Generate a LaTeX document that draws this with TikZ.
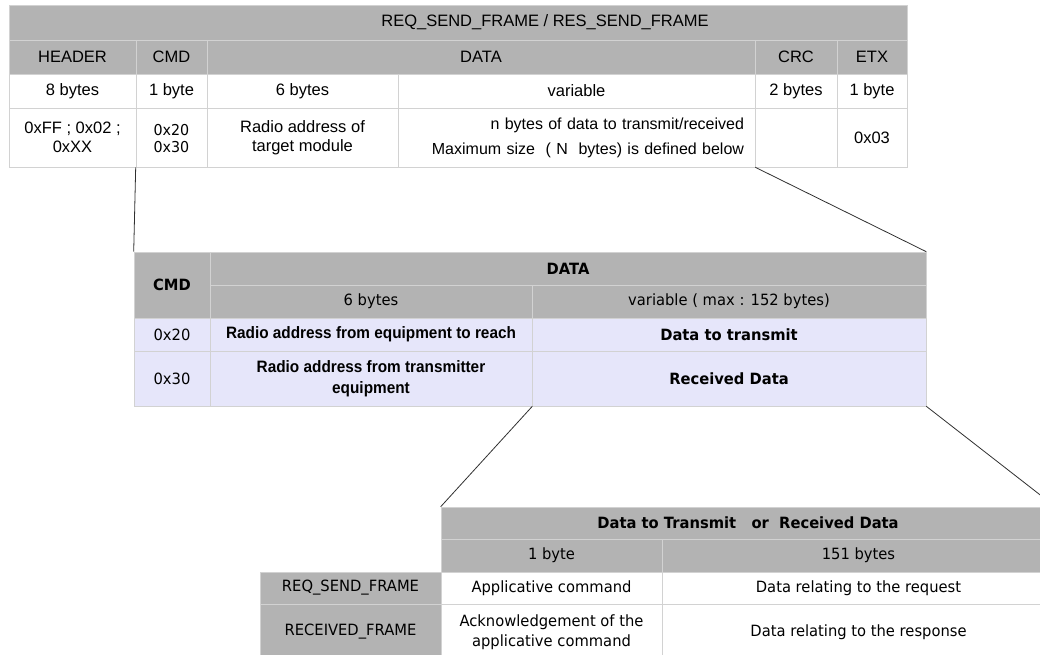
\documentclass[tikz,border=0pt]{standalone}
\usepackage{fontspec}
\setmainfont{Liberation Sans}
\newfontfamily\tahoma[FakeStretch=0.95]{DejaVu Sans}
\newfontfamily\narrowsans[FakeStretch=0.93]{Liberation Sans}
\definecolor{headgray}{HTML}{B3B3B3}
\definecolor{rulegray}{HTML}{D2D2D2}
\definecolor{rowlav}{HTML}{E6E6FA}
\definecolor{linkgray}{HTML}{303030}
% one table cell: [style] name, x1, y1, x2, y2, text
\newcommand\tcell[7][]{%
\node[cell,minimum width={(#5-#3)*1pt},minimum height={(#6-#4)*1pt},#1]
  (#2) at ({(#3+#5)/2},{(#4+#6)/2}) {#7};}

\begin{document}
\begin{tikzpicture}[x=1pt,y=-1pt]
\tikzset{cell/.style={draw=rulegray,line width=0.6pt,inner sep=0pt,align=center,
  font=\fontsize{16.5}{19}\selectfont},
  head/.style={fill=headgray},
  lav/.style={fill=rowlav},
  tah/.style={font=\tahoma\fontsize{15.5}{20}\selectfont},
  tahbold/.style={font=\tahoma\bfseries\fontsize{15.5}{20}\selectfont},
  narrowbold/.style={font=\narrowsans\bfseries\fontsize{16.5}{21}\selectfont},
  link/.style={draw=linkgray,line width=0.8pt}}
\useasboundingbox (0,0) rectangle (1040,654);
\clip (0,0) rectangle (1040,654);

% frame table
\tcell[head]{t1title}{9}{5}{907}{40}{}
\node[font=\fontsize{16.5}{19}\selectfont] (t1name) at (545,22.5) {REQ\_SEND\_FRAME / RES\_SEND\_FRAME};
\tcell[head]{t1header}{9}{40}{136}{74}{HEADER}
\tcell[head]{t1cmd}{136}{40}{207}{74}{CMD}
\tcell[head]{t1data}{207}{40}{755}{74}{DATA}
\tcell[head]{t1crc}{755}{40}{837}{74}{CRC}
\tcell[head]{t1etx}{837}{40}{907}{74}{ETX}
\tcell{t1headersize}{9}{74}{136}{108}{8 bytes}
\tcell{t1cmdsize}{136}{74}{207}{108}{1 byte}
\tcell{t1addrsize}{207}{74}{398}{108}{6 bytes}
\tcell{t1varsize}{398}{74}{755}{108}{variable}
\tcell{t1crcsize}{755}{74}{837}{108}{2 bytes}
\tcell{t1etxsize}{837}{74}{907}{108}{1 byte}
\tcell{t1headerval}{9}{108}{136}{167}{0xFF ; 0x02 ;\\0xXX}
\tcell[font=\tahoma\fontsize{15}{17}\selectfont]{t1cmdval}{136}{108}{207}{167}{\\[-4pt]0x20\\0x30}
\tcell{t1addrval}{207}{108}{398}{167}{Radio address of\\target module}
\tcell[text width=335pt,align=right,font=\fontsize{16}{19}\selectfont]{t1varval}{398}{108}{755}{167}{n bytes of data to transmit/received\\[6pt]Maximum size~ ( N~ bytes) is defined below}
\tcell{t1crcval}{755}{108}{837}{167}{}
\tcell{t1etxval}{837}{108}{907}{167}{0x03}

% DATA field table
\tcell[head,tahbold]{t2cmd}{134}{252}{210}{318}{CMD}
\tcell[head,tahbold]{t2data}{210}{252}{926}{285}{DATA}
\tcell[head,tah]{t2addrsize}{210}{285}{532}{318}{6 bytes}
\tcell[head,tah]{t2varsize}{532}{285}{926}{318}{variable ( max : 152 bytes)}
\tcell[lav,tah]{t2txcmd}{134}{318}{210}{351}{0x20}
\tcell[lav,narrowbold]{t2txaddr}{210}{318}{532}{351}{Radio address from equipment to reach}
\tcell[lav,tahbold]{t2txdata}{532}{318}{926}{351}{Data to transmit}
\tcell[lav,tah]{t2rxcmd}{134}{351}{210}{406}{0x30}
\tcell[lav,narrowbold]{t2rxaddr}{210}{351}{532}{406}{Radio address from transmitter\\equipment}
\tcell[lav,tahbold]{t2rxdata}{532}{351}{926}{406}{Received Data}

% payload table
\tcell[head,tahbold]{t3title}{441}{507}{1055}{539}{Data to Transmit~~ or~ Received Data}
\tcell[head,tah]{t3cmdsize}{441}{539}{662}{572}{1 byte}
\tcell[head,tah]{t3restsize}{662}{539}{1055}{572}{151 bytes}
\tcell[head,tah]{t3req}{260}{572}{441}{604}{REQ\_SEND\_FRAME}
\tcell[tah]{t3reqcmd}{441}{572}{662}{604}{Applicative command}
\tcell[tah]{t3reqdata}{662}{572}{1055}{604}{Data relating to the request}
\tcell[head,tah]{t3res}{260}{604}{441}{660}{RECEIVED\_FRAME}
\tcell[tah]{t3rescmd}{441}{604}{662}{660}{Acknowledgement of the\\applicative command}
\tcell[tah]{t3resdata}{662}{604}{1055}{660}{Data relating to the response}

% zoom lines
\path[link] (t1cmdval.south west) -- (t2cmd.north west)
  (t1varval.south east) -- (t2data.north east)
  (t2rxaddr.south east) -- (t3title.north west)
  (t2rxdata.south east) -- (t3title.north east);
\end{tikzpicture}
\end{document}
